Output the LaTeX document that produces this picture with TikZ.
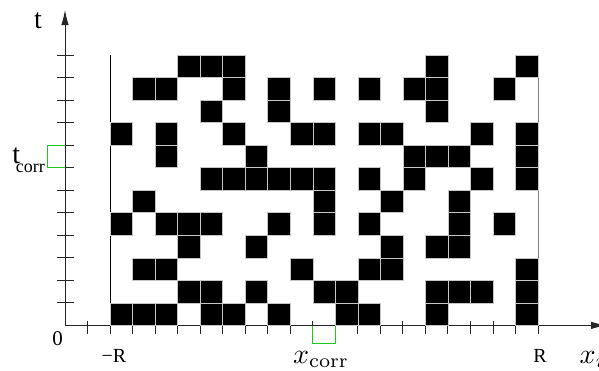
\documentclass[tikz,border=0pt]{standalone}
\usepackage[no-math]{fontspec}
\setmainfont{Liberation Serif}
\usetikzlibrary{arrows.meta}
\definecolor{corrgreen}{RGB}{30,200,30}
\begin{document}
\begin{tikzpicture}[x=1pt,y=-1pt,
  cell/.style={fill=black,draw=gray!45,line width=0.4pt},
  axis/.style={draw=black!85,line width=0.9pt},
  tickmark/.style={draw=black!85,line width=0.9pt},
  corrbox/.style={draw=corrgreen,line width=1.4pt},
  lab/.style={inner sep=0pt,font=\fontsize{20}{20}\selectfont},
  biglab/.style={inner sep=0pt,font=\fontsize{28}{28}\selectfont},
  mathlab/.style={inner sep=0pt,scale=2.8}]
\useasboundingbox (0,0) rectangle (599,370);
\def\s{22.526}
% ticks
\foreach \k in {0,...,11} \draw[tickmark] (56.5,{55+\k*\s}) -- (74,{55+\k*\s});
\draw[tickmark] (87.5,321) -- (87.5,334);
\foreach \k in {0,...,19} \draw[tickmark] ({110+\k*\s},321) -- ({110+\k*\s},334);
% axes
\draw[axis,-{Latex[length=15pt,width=7.5pt]}] (65,325.4) -- (65,10);
\draw[axis,-{Latex[length=15pt,width=7.5pt]}] (65,325.4) -- (606,325.4);
% borders of the lattice
\draw[black,line width=0.8pt] (110,55) -- (110,325.4);
\draw[gray,line width=0.8pt] (538,55) -- (538,325.4);
% occupied cells
\foreach \r/\cols in {
  0/{3,4,5,14,18},
  1/{1,2,5,7,9,11,13,14,17},
  2/{4,7,14},
  3/{0,2,5,8,9,11,12,16,18},
  4/{2,6,13,14,15,18},
  5/{4,5,6,7,8,9,11,13,16,18},
  6/{1,9,12,15},
  7/{0,2,3,4,7,9,11,15,17},
  8/{3,6,12,14,15},
  9/{1,2,8,11,12,18},
  10/{3,4,6,9,10,14,15,16,18},
  11/{0,1,2,4,5,7,10,11,14,18}}
  \foreach \c in \cols
    \filldraw[cell] ({110+\c*\s},{55+\r*\s}) rectangle +(\s,\s);
% correlation boxes
\draw[corrbox] (65,145.5) -- (47.5,145.5) -- (47.5,167.5) -- (65,167.5);
\draw[corrbox] (312.73,326) -- (312.73,343.5) -- (335.26,343.5) -- (335.26,326);
% labels
\node[biglab,anchor=base west] (tlab) at (33.8,28.3) {t};
\node[biglab,anchor=base west] (tcorrt) at (12.3,163.3) {t};
\node[lab,font=\fontsize{18}{18}\selectfont,anchor=base west] (tcorrs) at (15.8,172.8) {corr};
\node[inner sep=0pt,font=\fontsize{21}{21}\selectfont,anchor=base] (zero) at (57.5,345) {0};
\node[lab,anchor=base] (mR) at (114,362.5) {−R};
\node[lab,anchor=base] (pR) at (540,362.5) {R};
\node[mathlab,anchor=base west] (xcorr) at (292.5,363) {$x_{\mathrm{corr}}$};
\node[mathlab,anchor=base west] (xlab) at (579,363) {$x_{i}$};
\end{tikzpicture}
\end{document}
